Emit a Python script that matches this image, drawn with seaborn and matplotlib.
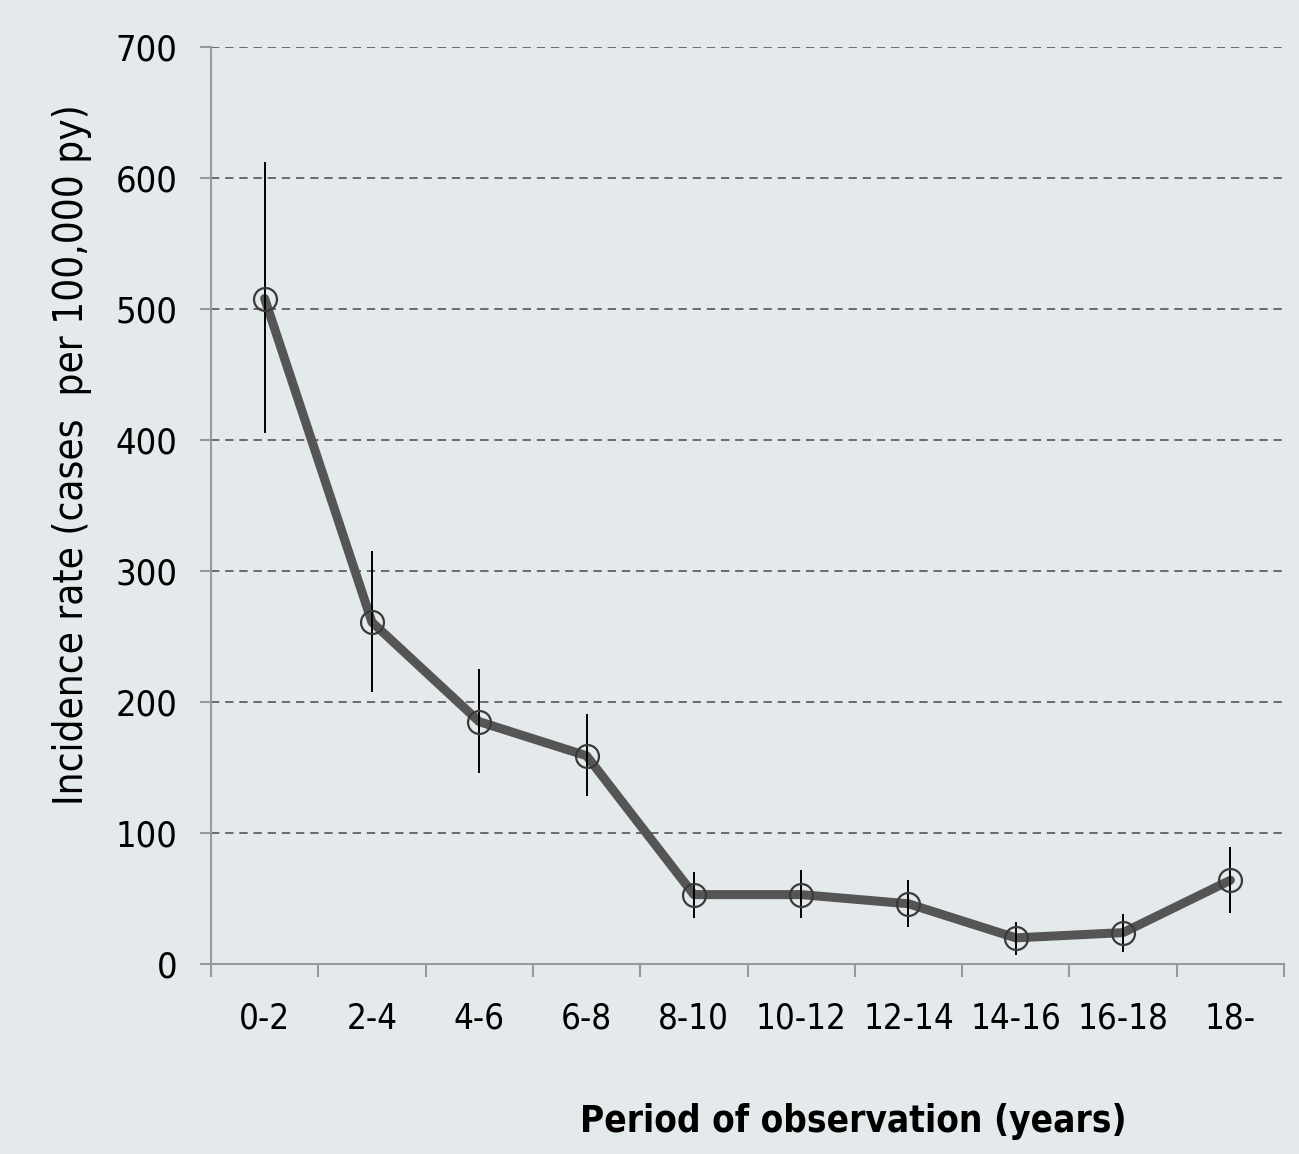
import matplotlib
matplotlib.use('Agg')
import matplotlib.pyplot as plt
from matplotlib import font_manager
import numpy as np
import pandas as pd
import seaborn as sns

# ─── Data ─────────────────────────────────────────────────────────────────────

periods = ['0-2', '2-4', '4-6', '6-8', '8-10', '10-12',
           '12-14', '14-16', '16-18', '18-']
rate  = [508, 261, 185, 159, 53, 53, 46, 20, 24, 64]
lower = [405, 208, 146, 128, 35, 35, 28, 7, 9, 39]
upper = [612, 315, 225, 191, 70, 72, 64, 32, 38, 89]
y_ticks = [0, 100, 200, 300, 400, 500, 600, 700]

BG = '#e4e9ec'

# pick a condensed family if one is installed
narrow = [f for f in font_manager.fontManager.ttflist
          if 'condensed' in str(f.stretch).lower() or 'narrow' in f.name.lower()
          or 'condensed' in f.name.lower()]
font_name = narrow[0].name if narrow else 'Liberation Sans'
font_stretch = narrow[0].stretch if narrow else 'normal'

sns.set_theme(style='white')
plt.rcParams['font.family'] = [font_name, 'DejaVu Sans']
plt.rcParams['font.stretch'] = font_stretch
plt.rcParams['text.color'] = 'black'
plt.rcParams['axes.labelcolor'] = 'black'
plt.rcParams['xtick.labelcolor'] = 'black'
plt.rcParams['ytick.labelcolor'] = 'black'

df = pd.DataFrame({
    'pos': np.arange(len(periods)) + 0.5,
    'rate': rate,
    'lower': lower,
    'upper': upper,
})

fig = plt.figure(figsize=(12.99, 11.54), dpi=100, facecolor=BG)
ax = fig.add_axes([0.1624, 0.1646, 0.9885 - 0.1624, 0.9593 - 0.1646])
ax.set_facecolor(BG)

# grid
for y in y_ticks[1:]:
    ax.axhline(y, color='#555555', lw=1.2, ls=(0, (5, 3.5)), zorder=1)

# line
sns.lineplot(data=df, x='pos', y='rate', ax=ax, color='#555555',
             lw=6.5, zorder=2, legend=False)

# confidence intervals
ax.vlines(df['pos'], df['lower'], df['upper'], color='black', lw=1.4,
          zorder=3)

# hollow markers
ax.plot(df['pos'], df['rate'], ls='none', marker='o', ms=16.5,
        mfc='none', mec='#3a3a3a', mew=1.6, zorder=4)

ax.set_xlim(0, len(periods))
ax.set_ylim(0, 700)

ax.set_xticks(np.arange(len(periods) + 1))
ax.set_xticklabels([])
ax.set_xticks(df['pos'], minor=True)
ax.set_xticklabels(periods, minor=True)
ax.set_yticks(y_ticks)

ax.tick_params(axis='x', which='major', direction='out', length=9,
               width=1.5, color='#999999', bottom=True)
ax.tick_params(axis='x', which='minor', length=0, pad=27, labelsize=25)
ax.tick_params(axis='y', which='major', direction='out', length=8,
               width=1.5, color='#999999', left=True, pad=16, labelsize=26)

for side in ['top', 'right']:
    ax.spines[side].set_visible(False)
for side in ['left', 'bottom']:
    ax.spines[side].set_color('#999999')
    ax.spines[side].set_linewidth(1.5)

ax.set_xlabel('')
ax.set_ylabel('Incidence rate (cases  per 100,000 py)', fontsize=29)
ax.yaxis.set_label_coords(-0.111, 0.556)
fig.text(0.657, 0.028, 'Period of observation (years)', fontsize=26.5,
         fontweight='bold', ha='center', va='center')

plt.savefig('out.png', dpi=100, facecolor=BG)
plt.close()
